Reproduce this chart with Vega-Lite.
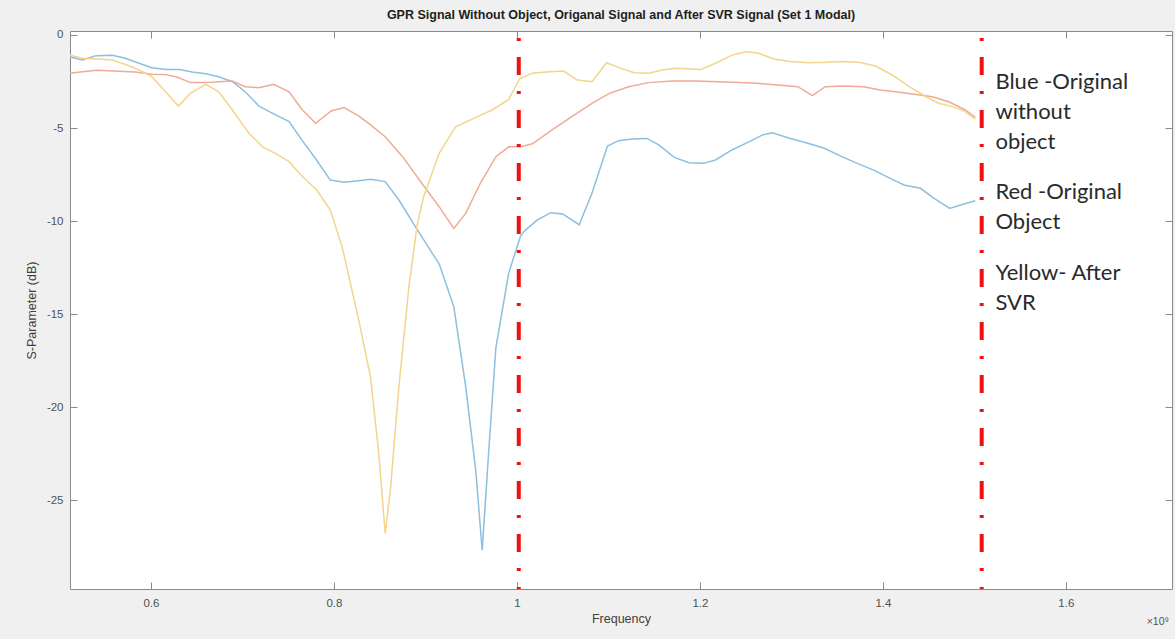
{
  "$schema": "https://vega.github.io/schema/vega-lite/v6.json",
  "autosize": {"type": "none"},
  "width": 1102,
  "height": 558,
  "padding": {"left": 70, "top": 31, "right": 3, "bottom": 50},
  "background": "#f0f0f0",
  "title": {
    "text": "GPR Signal Without Object, Origanal Signal and After SVR Signal (Set 1 Modal)",
    "font": "Liberation Sans", "fontSize": 12.5, "fontWeight": "bold", "color": "#1e1e1e",
    "anchor": "middle", "offset": 7
  },
  "config": {
    "view": {"fill": "white", "stroke": "#8a8a8a", "strokeWidth": 1},
    "axis": {
      "labelFont": "Liberation Sans", "labelFontSize": 11.5, "labelColor": "#505050",
      "titleFont": "Liberation Sans", "titleFontSize": 12.5, "titleColor": "#404040", "titleFontWeight": "normal",
      "domain": false, "tickColor": "#8a8a8a", "grid": false, "tickSize": 7, "offset": -7
    }
  },
  "datasets": {
    "curves": [
      {"s":"Blue","f":0.511,"v":-1.17},{"s":"Blue","f":0.525,"v":-1.34},{"s":"Blue","f":0.540,"v":-1.11},{"s":"Blue","f":0.558,"v":-1.09},{"s":"Blue","f":0.572,"v":-1.25},{"s":"Blue","f":0.587,"v":-1.52},{"s":"Blue","f":0.601,"v":-1.76},{"s":"Blue","f":0.616,"v":-1.85},{"s":"Blue","f":0.631,"v":-1.85},{"s":"Blue","f":0.645,"v":-1.99},{"s":"Blue","f":0.660,"v":-2.08},{"s":"Blue","f":0.674,"v":-2.24},{"s":"Blue","f":0.689,"v":-2.51},{"s":"Blue","f":0.703,"v":-3.05},{"s":"Blue","f":0.718,"v":-3.82},{"s":"Blue","f":0.733,"v":-4.21},{"s":"Blue","f":0.751,"v":-4.66},{"s":"Blue","f":0.765,"v":-5.65},{"s":"Blue","f":0.780,"v":-6.65},{"s":"Blue","f":0.796,"v":-7.80},{"s":"Blue","f":0.811,"v":-7.92},{"s":"Blue","f":0.827,"v":-7.83},{"s":"Blue","f":0.840,"v":-7.76},{"s":"Blue","f":0.856,"v":-7.88},{"s":"Blue","f":0.871,"v":-8.87},{"s":"Blue","f":0.889,"v":-10.3},{"s":"Blue","f":0.907,"v":-11.7},{"s":"Blue","f":0.915,"v":-12.3},{"s":"Blue","f":0.931,"v":-14.6},{"s":"Blue","f":0.944,"v":-18.9},{"s":"Blue","f":0.955,"v":-23.4},{"s":"Blue","f":0.962,"v":-27.7},{"s":"Blue","f":0.969,"v":-22.5},{"s":"Blue","f":0.977,"v":-16.8},{"s":"Blue","f":0.991,"v":-12.8},{"s":"Blue","f":1.004,"v":-10.8},{"s":"Blue","f":1.009,"v":-10.5},{"s":"Blue","f":1.022,"v":-9.95},{"s":"Blue","f":1.037,"v":-9.55},{"s":"Blue","f":1.050,"v":-9.62},{"s":"Blue","f":1.068,"v":-10.2},{"s":"Blue","f":1.082,"v":-8.51},{"s":"Blue","f":1.099,"v":-5.97},{"s":"Blue","f":1.111,"v":-5.68},{"s":"Blue","f":1.126,"v":-5.59},{"s":"Blue","f":1.142,"v":-5.56},{"s":"Blue","f":1.155,"v":-5.91},{"s":"Blue","f":1.172,"v":-6.58},{"s":"Blue","f":1.188,"v":-6.87},{"s":"Blue","f":1.204,"v":-6.90},{"s":"Blue","f":1.217,"v":-6.72},{"s":"Blue","f":1.235,"v":-6.18},{"s":"Blue","f":1.254,"v":-5.73},{"s":"Blue","f":1.268,"v":-5.38},{"s":"Blue","f":1.279,"v":-5.25},{"s":"Blue","f":1.299,"v":-5.56},{"s":"Blue","f":1.318,"v":-5.82},{"s":"Blue","f":1.336,"v":-6.09},{"s":"Blue","f":1.354,"v":-6.51},{"s":"Blue","f":1.372,"v":-6.90},{"s":"Blue","f":1.390,"v":-7.26},{"s":"Blue","f":1.408,"v":-7.71},{"s":"Blue","f":1.423,"v":-8.06},{"s":"Blue","f":1.441,"v":-8.24},{"s":"Blue","f":1.456,"v":-8.78},{"s":"Blue","f":1.473,"v":-9.32},{"s":"Blue","f":1.485,"v":-9.14},{"s":"Blue","f":1.501,"v":-8.91},
      {"s":"Red","f":0.511,"v":-2.06},{"s":"Red","f":0.525,"v":-1.97},{"s":"Red","f":0.541,"v":-1.90},{"s":"Red","f":0.565,"v":-1.95},{"s":"Red","f":0.583,"v":-1.99},{"s":"Red","f":0.601,"v":-2.11},{"s":"Red","f":0.616,"v":-2.13},{"s":"Red","f":0.629,"v":-2.27},{"s":"Red","f":0.643,"v":-2.56},{"s":"Red","f":0.660,"v":-2.56},{"s":"Red","f":0.674,"v":-2.51},{"s":"Red","f":0.689,"v":-2.47},{"s":"Red","f":0.703,"v":-2.78},{"s":"Red","f":0.718,"v":-2.83},{"s":"Red","f":0.734,"v":-2.65},{"s":"Red","f":0.751,"v":-3.05},{"s":"Red","f":0.765,"v":-4.0},{"s":"Red","f":0.780,"v":-4.75},{"s":"Red","f":0.797,"v":-4.08},{"s":"Red","f":0.811,"v":-3.90},{"s":"Red","f":0.827,"v":-4.35},{"s":"Red","f":0.838,"v":-4.75},{"s":"Red","f":0.856,"v":-5.47},{"s":"Red","f":0.875,"v":-6.54},{"s":"Red","f":0.896,"v":-7.97},{"s":"Red","f":0.915,"v":-9.23},{"s":"Red","f":0.931,"v":-10.4},{"s":"Red","f":0.944,"v":-9.59},{"s":"Red","f":0.960,"v":-7.97},{"s":"Red","f":0.977,"v":-6.54},{"s":"Red","f":0.991,"v":-6.01},{"s":"Red","f":1.004,"v":-6.01},{"s":"Red","f":1.017,"v":-5.85},{"s":"Red","f":1.038,"v":-5.11},{"s":"Red","f":1.060,"v":-4.39},{"s":"Red","f":1.082,"v":-3.67},{"s":"Red","f":1.101,"v":-3.14},{"s":"Red","f":1.122,"v":-2.78},{"s":"Red","f":1.144,"v":-2.56},{"s":"Red","f":1.170,"v":-2.47},{"s":"Red","f":1.195,"v":-2.47},{"s":"Red","f":1.228,"v":-2.53},{"s":"Red","f":1.263,"v":-2.60},{"s":"Red","f":1.285,"v":-2.69},{"s":"Red","f":1.307,"v":-2.78},{"s":"Red","f":1.323,"v":-3.26},{"s":"Red","f":1.337,"v":-2.78},{"s":"Red","f":1.357,"v":-2.74},{"s":"Red","f":1.379,"v":-2.78},{"s":"Red","f":1.397,"v":-2.96},{"s":"Red","f":1.416,"v":-3.06},{"s":"Red","f":1.434,"v":-3.19},{"s":"Red","f":1.454,"v":-3.32},{"s":"Red","f":1.472,"v":-3.59},{"s":"Red","f":1.490,"v":-4.03},{"s":"Red","f":1.501,"v":-4.43},
      {"s":"Yellow","f":0.511,"v":-1.08},{"s":"Yellow","f":0.525,"v":-1.25},{"s":"Yellow","f":0.540,"v":-1.29},{"s":"Yellow","f":0.558,"v":-1.34},{"s":"Yellow","f":0.572,"v":-1.58},{"s":"Yellow","f":0.587,"v":-1.88},{"s":"Yellow","f":0.601,"v":-2.24},{"s":"Yellow","f":0.616,"v":-3.05},{"s":"Yellow","f":0.630,"v":-3.82},{"s":"Yellow","f":0.643,"v":-3.14},{"s":"Yellow","f":0.660,"v":-2.65},{"s":"Yellow","f":0.674,"v":-3.05},{"s":"Yellow","f":0.689,"v":-4.03},{"s":"Yellow","f":0.707,"v":-5.28},{"s":"Yellow","f":0.722,"v":-6.01},{"s":"Yellow","f":0.736,"v":-6.36},{"s":"Yellow","f":0.751,"v":-6.81},{"s":"Yellow","f":0.765,"v":-7.58},{"s":"Yellow","f":0.781,"v":-8.32},{"s":"Yellow","f":0.796,"v":-9.41},{"s":"Yellow","f":0.809,"v":-11.4},{"s":"Yellow","f":0.827,"v":-15.3},{"s":"Yellow","f":0.840,"v":-18.4},{"s":"Yellow","f":0.849,"v":-22.5},{"s":"Yellow","f":0.856,"v":-26.8},{"s":"Yellow","f":0.862,"v":-24.3},{"s":"Yellow","f":0.871,"v":-18.9},{"s":"Yellow","f":0.882,"v":-13.5},{"s":"Yellow","f":0.891,"v":-10.2},{"s":"Yellow","f":0.898,"v":-8.69},{"s":"Yellow","f":0.915,"v":-6.36},{"s":"Yellow","f":0.933,"v":-4.93},{"s":"Yellow","f":0.955,"v":-4.43},{"s":"Yellow","f":0.973,"v":-4.03},{"s":"Yellow","f":0.991,"v":-3.46},{"s":"Yellow","f":1.003,"v":-2.35},{"s":"Yellow","f":1.017,"v":-2.05},{"s":"Yellow","f":1.035,"v":-1.97},{"s":"Yellow","f":1.051,"v":-1.94},{"s":"Yellow","f":1.066,"v":-2.42},{"s":"Yellow","f":1.082,"v":-2.51},{"s":"Yellow","f":1.098,"v":-1.49},{"s":"Yellow","f":1.111,"v":-1.74},{"s":"Yellow","f":1.128,"v":-2.03},{"s":"Yellow","f":1.144,"v":-2.06},{"s":"Yellow","f":1.159,"v":-1.88},{"s":"Yellow","f":1.173,"v":-1.79},{"s":"Yellow","f":1.201,"v":-1.85},{"s":"Yellow","f":1.217,"v":-1.52},{"s":"Yellow","f":1.235,"v":-1.08},{"s":"Yellow","f":1.250,"v":-0.90},{"s":"Yellow","f":1.263,"v":-0.97},{"s":"Yellow","f":1.281,"v":-1.29},{"s":"Yellow","f":1.299,"v":-1.43},{"s":"Yellow","f":1.319,"v":-1.49},{"s":"Yellow","f":1.337,"v":-1.47},{"s":"Yellow","f":1.355,"v":-1.43},{"s":"Yellow","f":1.374,"v":-1.47},{"s":"Yellow","f":1.392,"v":-1.67},{"s":"Yellow","f":1.410,"v":-2.15},{"s":"Yellow","f":1.429,"v":-2.78},{"s":"Yellow","f":1.447,"v":-3.32},{"s":"Yellow","f":1.461,"v":-3.67},{"s":"Yellow","f":1.476,"v":-3.85},{"s":"Yellow","f":1.490,"v":-4.12},{"s":"Yellow","f":1.501,"v":-4.53}
    ],
    "markers": [{"f": 1.002}, {"f": 1.508}],
    "notes": [
      {"t": "Blue -Original", "f": 1.523, "v": -2.53},
      {"t": "without", "f": 1.523, "v": -4.14},
      {"t": "object", "f": 1.523, "v": -5.75},
      {"t": "Red  -Original", "f": 1.523, "v": -8.44},
      {"t": "Object", "f": 1.523, "v": -10.05},
      {"t": "Yellow- After", "f": 1.523, "v": -12.8},
      {"t": "SVR", "f": 1.523, "v": -14.4}
    ]
  },
  "resolve": {"axis": {"x": "independent", "y": "independent"}},
  "layer": [
    {
      "data": {"name": "curves"},
      "mark": {"type": "line", "strokeWidth": 1.5, "clip": true},
      "encoding": {
        "x": {"field": "f", "type": "quantitative", "scale": {"domain": [0.5115, 1.716], "nice": false, "zero": false},
              "axis": {"orient": "bottom", "title": "Frequency", "values": [0.6, 0.8, 1, 1.2, 1.4, 1.6], "labelExpr": "toString(datum.value)", "labelPadding": 8, "titlePadding": 4}},
        "y": {"field": "v", "type": "quantitative", "scale": {"domain": [-29.78, 0.215], "nice": false, "zero": false},
              "axis": {"orient": "left", "title": "S-Parameter (dB)", "values": [0, -5, -10, -15, -20, -25], "labelExpr": "toString(datum.value)", "labelPadding": 7, "titlePadding": 8}},
        "color": {"field": "s", "type": "nominal", "scale": {"domain": ["Blue", "Red", "Yellow"], "range": ["#8cbfe0", "#efab95", "#f3d58b"]}, "legend": null},
        "detail": {"field": "s"}
      }
    },
    {
      "data": {"name": "markers"},
      "mark": {"type": "rule", "color": "#ee1111", "strokeWidth": 4, "strokeDash": [18, 16, 3, 16], "strokeDashOffset": 27},
      "encoding": {
        "x": {"field": "f", "type": "quantitative",
              "axis": {"orient": "top", "title": null, "labels": false, "values": [0.6, 0.8, 1, 1.2, 1.4, 1.6]}}
      }
    },
    {
      "data": {"name": "notes"},
      "mark": {"type": "text", "align": "left", "baseline": "middle", "font": "Lato", "fontSize": 22, "color": "#2a2a2a"},
      "encoding": {
        "x": {"field": "f", "type": "quantitative", "axis": null},
        "y": {"field": "v", "type": "quantitative",
              "axis": {"orient": "right", "title": null, "labels": false, "values": [0, -5, -10, -15, -20, -25]}},
        "text": {"field": "t"}
      }
    },
    {
      "data": {"values": [{"t": "×10⁹", "f": 1.716, "v": -29.78}]},
      "mark": {"type": "text", "align": "right", "baseline": "top", "dy": 28, "dx": -3, "font": "Liberation Sans", "fontSize": 10.5, "color": "#505050"},
      "encoding": {
        "x": {"field": "f", "type": "quantitative", "axis": null},
        "y": {"field": "v", "type": "quantitative", "axis": null},
        "text": {"field": "t"}
      }
    }
  ]
}
